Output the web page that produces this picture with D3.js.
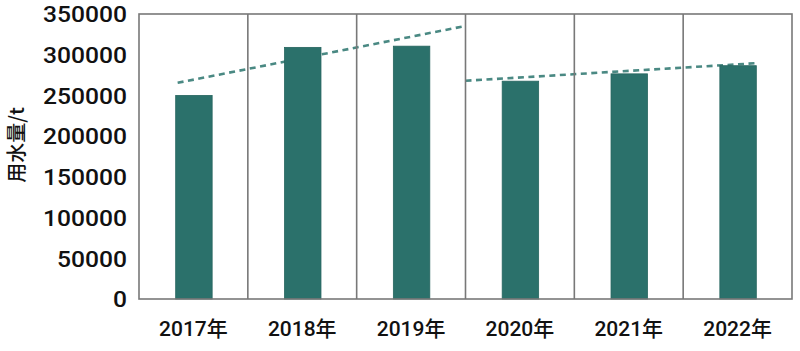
<!DOCTYPE html>
<html><head><meta charset="utf-8">
<script src="https://cdn.jsdelivr.net/npm/d3@7"></script>
<style>body{margin:0;background:#fff}svg{display:block}</style>
</head><body>
<svg id="c" width="800" height="351"></svg>
<script>
const years = ["2017年","2018年","2019年","2020年","2021年","2022年"];
const usage = [250000, 309000, 310500, 267500, 276500, 286500];
const yTicks = [0,50000,100000,150000,200000,250000,300000,350000];
// trend lines: [category position (index units), value]
const trend1 = [[-0.145, 265500],[2.47, 334500]];
const trend2 = [[2.5, 268000],[5.16, 289500]];
const yTitle = "用水量/t";

const svg = d3.select("#c");
const L = 139, R = 792, T = 14, B = 299;
const x = d3.scaleBand().domain(years).range([L, R]).paddingInner(0).paddingOuter(0);
const y = d3.scaleLinear().domain([0, 350000]).range([B, T]);
const xi = d3.scaleLinear().domain([-0.5, years.length - 0.5]).range([L, R]);

// trend lines (behind bars)
const line = d3.line().x(d => xi(d[0])).y(d => y(d[1]));
[trend1, trend2].forEach(t => {
  svg.append("path").attr("d", line(t)).attr("fill","none")
    .attr("stroke","#4a8983").attr("stroke-width",2.6).attr("stroke-dasharray","6,4.5");
});

// bars
const bw = x.bandwidth() * 0.335;
svg.selectAll("rect.bar").data(years).join("rect").attr("class","bar")
  .attr("x", d => x(d) + x.bandwidth()/2 - bw/2 + 0.5)
  .attr("width", bw)
  .attr("y", (d,i) => y(usage[i]))
  .attr("height", (d,i) => B - y(usage[i]))
  .attr("fill","#2b716b").attr("stroke","#26655f").attr("stroke-width",0.8);

// frame & category dividers
svg.append("rect").attr("x",L).attr("y",T).attr("width",R-L).attr("height",B-T)
  .attr("fill","none").attr("stroke","#787878").attr("stroke-width",1.6);
svg.selectAll("line.div").data(years.slice(1)).join("line").attr("class","div")
  .attr("x1", d => x(d)).attr("x2", d => x(d)).attr("y1", T).attr("y2", B)
  .attr("stroke","#787878").attr("stroke-width",1.6);

// y axis
const yAxis = d3.axisLeft(y).tickValues(yTicks).tickSize(0).tickPadding(0).tickFormat(d3.format("d"));
const ga = svg.append("g").attr("transform",`translate(127,0)`).call(yAxis);
ga.select(".domain").remove();
ga.selectAll("text").attr("font-family","Roboto, 'Noto Sans', sans-serif").attr("font-size",21.5)
  .attr("font-weight",500).attr("fill","#111").attr("dy","0.36em")
  .each(function(d){ const s = String(d).length; d3.select(this).attr("textLength", s*14).attr("lengthAdjust","spacingAndGlyphs"); });

// x axis
const xAxis = d3.axisBottom(x).tickSize(0).tickPadding(0);
const gx = svg.append("g").attr("transform",`translate(0,${B})`).call(xAxis);
gx.select(".domain").remove();
gx.selectAll("text").attr("font-family","Roboto, 'Noto Sans CJK SC', sans-serif").attr("font-size",21)
  .attr("font-weight",500).attr("fill","#111").attr("y",22.5).attr("dy","0.71em");

// y title
svg.append("text").attr("transform","translate(24,145) rotate(-90)")
  .attr("text-anchor","middle").attr("font-family","'Noto Sans CJK SC', sans-serif")
  .attr("font-size",20).attr("font-weight",500).attr("fill","#111").text(yTitle);
</script>
</body></html>
